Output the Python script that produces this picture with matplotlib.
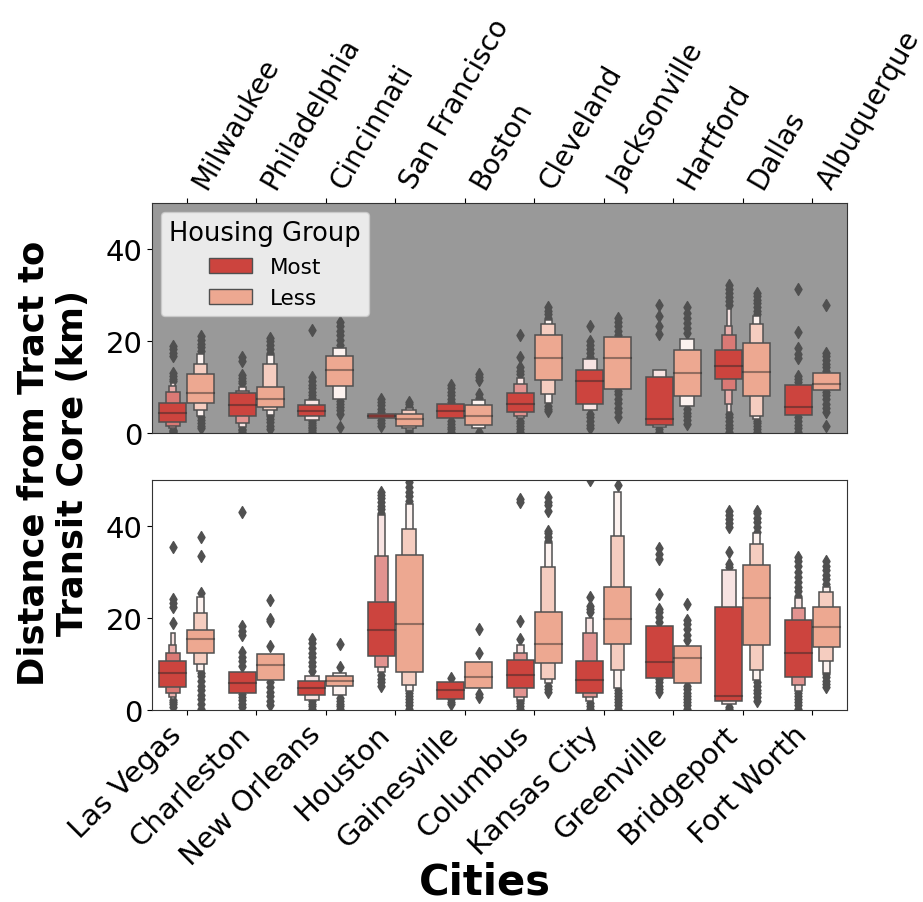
import numpy as np
import matplotlib
matplotlib.use("Agg")
from matplotlib import pyplot as plt
from matplotlib.patches import Rectangle, Patch

# ---- data (km) ----
top_cities = ["Milwaukee", "Philadelphia", "Cincinnati", "San Francisco", "Boston",
              "Cleveland", "Jacksonville", "Hartford", "Dallas", "Albuquerque"]
bot_cities = ["Las Vegas", "Charleston", "New Orleans", "Houston", "Gainesville",
              "Columbus", "Kansas City", "Greenville", "Bridgeport", "Fort Worth"]

# medians
top_most_med = [4.3, 6.1, 4.8, 3.7, 4.8, 6.2, 11.2, 3.1, 14.5, 5.6]
top_less_med = [8.6, 7.5, 13.6, 3.0, 3.6, 16.4, 16.3, 13.0, 13.2, 10.7]
bot_most_med = [8.1, 5.8, 4.7, 17.5, 4.3, 7.6, 6.5, 10.4, 3.0, 12.3]
bot_less_med = [15.4, 9.8, 6.4, 18.8, 7.2, 14.4, 19.8, 11.3, 24.3, 18.0]

# letter-value boxes, inner (IQR) box first
top_most_boxes = [
    [(2.3, 6.6), (1.5, 8.9), (1.1, 10.2), (0.8, 10.8)],
    [(3.6, 8.6), (2.2, 9.2), (1.2, 10.0)],
    [(3.6, 6.1), (2.9, 7.2)],
    [(3.2, 4.1)],
    [(3.2, 6.3)],
    [(4.6, 8.7), (3.8, 10.6), (3.2, 12.0)],
    [(6.4, 13.7), (5.1, 16.1)],
    [(1.7, 12.1), (1.2, 13.6)],
    [(11.7, 18.1), (9.4, 21.3), (6.3, 23.2), (4.5, 27.0)],
    [(4.0, 10.4)],
]
top_less_boxes = [
    [(6.5, 12.8), (5.0, 15.1), (3.7, 17.2)],
    [(5.6, 9.9), (5.0, 14.9), (4.0, 17.0)],
    [(10.3, 16.7), (7.5, 18.4)],
    [(1.5, 4.1), (1.0, 4.9), (0.7, 5.4)],
    [(1.7, 6.1), (1.0, 7.2)],
    [(11.5, 21.2), (8.5, 23.7), (6.5, 24.6)],
    [(9.6, 20.9)],
    [(8.0, 18.0), (5.8, 20.4)],
    [(8.0, 19.6), (3.8, 23.7), (3.0, 25.4)],
    [(9.4, 13.0)],
]
bot_most_boxes = [
    [(4.9, 10.7), (3.7, 12.3), (2.8, 14.2), (2.4, 16.7)],
    [(3.6, 8.3)],
    [(3.3, 6.2), (2.2, 7.5)],
    [(11.8, 23.5), (9.3, 33.4), (8.2, 42.4)],
    [(2.5, 6.0)],
    [(4.7, 10.9), (2.9, 12.5), (2.2, 14.2)],
    [(3.8, 10.6), (2.8, 16.7), (2.0, 19.9)],
    [(6.9, 18.2)],
    [(2.0, 22.5), (1.2, 30.5)],
    [(7.2, 19.5), (5.5, 22.2), (4.1, 24.3)],
]
bot_less_boxes = [
    [(12.3, 17.4), (10.1, 21.0), (8.4, 24.6)],
    [(6.6, 12.2)],
    [(5.3, 7.3), (3.3, 8.0)],
    [(8.3, 33.7), (5.5, 39.3), (4.1, 44.8)],
    [(4.8, 10.5)],
    [(10.2, 21.2), (6.7, 31.0), (5.9, 36.2)],
    [(14.3, 26.8), (8.7, 37.9), (4.7, 47.5)],
    [(5.8, 14.0)],
    [(14.1, 31.6), (8.7, 36.0), (6.6, 38.4)],
    [(13.8, 22.5), (10.6, 25.6), (8.0, 26.8)],
]

# outliers
top_most_fliers = [
    [0.2, 0.4, 0.6, 11.2, 11.8, 12.4, 13.0, 16.8, 17.5, 18.2, 19.0],
    [0.3, 0.6, 0.9, 10.8, 11.4, 12.0, 12.6, 15.6, 16.5],
    [0.2, 0.6, 1.0, 1.4, 1.8, 2.2, 2.6, 7.6, 8.2, 9.0, 9.8, 10.5, 11.3, 12.2, 22.5],
    [1.5, 2.2, 2.9, 4.6, 5.3, 6.1, 6.8, 7.4],
    [0.2, 0.8, 1.4, 2.0, 2.6, 6.8, 7.5, 8.2, 9.0, 9.8, 10.5],
    [0.3, 0.9, 1.5, 2.1, 2.7, 12.8, 13.5, 14.3, 16.5, 21.4],
    [1.0, 1.8, 2.6, 3.4, 4.2, 16.6, 17.4, 18.3, 19.2, 20.0, 23.3],
    [0.3, 0.8, 21.5, 23.3, 25.5, 27.8],
    [0.3, 1.0, 1.8, 2.6, 3.4, 4.2, 27.8, 28.6, 29.5, 30.4, 31.3, 32.2],
    [0.3, 1.0, 1.8, 2.6, 3.4, 11.0, 11.8, 12.4, 16.2, 17.2, 18.4, 22.0, 31.3],
]
top_less_fliers = [
    [1.0, 1.6, 2.2, 2.8, 3.4, 17.8, 18.6, 19.4, 20.2, 21.0],
    [0.9, 1.6, 2.3, 3.0, 3.7, 17.5, 18.3, 19.1, 19.9, 20.6],
    [1.3, 4.2, 4.9, 5.6, 6.3, 7.0, 19.2, 20.2, 21.2, 22.2, 23.2, 24.2],
    [0.2, 0.5, 5.6, 6.2, 6.8],
    [0.2, 7.6, 8.4, 11.5, 12.2, 12.9],
    [4.7, 5.3, 5.9, 25.0, 25.8, 26.6, 27.3],
    [3.5, 4.5, 5.5, 6.5, 7.5, 8.5, 9.2, 21.2, 22.2, 23.2, 24.2, 25.0],
    [2.0, 2.8, 3.6, 4.4, 5.2, 21.7, 22.8, 23.9, 25.0, 26.1, 27.3],
    [0.3, 0.9, 1.5, 2.1, 2.7, 25.8, 26.6, 27.4, 28.2, 29.0, 29.8, 30.4],
    [1.5, 4.6, 5.5, 6.4, 7.3, 8.2, 9.0, 13.5, 14.3, 15.1, 15.9, 16.7, 17.5, 27.8],
]
bot_most_fliers = [
    [0.7, 1.2, 1.7, 2.2, 18.9, 22.4, 23.2, 24.1, 35.4],
    [0.7, 1.4, 2.1, 2.8, 3.4, 9.6, 10.6, 11.6, 12.6, 16.2, 17.2, 18.3, 43.0],
    [0.2, 0.8, 1.4, 2.0, 8.5, 9.5, 10.5, 11.5, 12.5, 13.5, 14.5, 15.4],
    [5.2, 6.0, 6.8, 7.6, 42.8, 43.6, 44.4, 45.2, 46.0, 46.8, 47.4],
    [1.2, 1.8, 2.4, 6.9],
    [0.3, 0.9, 1.5, 2.0, 15.4, 19.4, 45.2, 45.8],
    [0.3, 0.9, 1.5, 21.3, 22.0, 22.6, 24.6, 50.0],
    [3.9, 4.6, 5.3, 6.0, 6.7, 19.2, 20.2, 21.3, 22.0, 25.2, 32.8, 34.0, 35.3],
    [0.2, 0.6, 31.0, 31.7, 34.4, 39.7, 40.7, 41.6, 42.5, 43.3],
    [0.3, 1.0, 1.7, 2.4, 3.1, 3.8, 24.8, 25.8, 26.8, 27.8, 29.0, 30.0, 31.2, 32.3, 33.3],
]
bot_less_fliers = [
    [0.3, 1.3, 2.3, 3.3, 4.3, 5.3, 6.3, 7.3, 8.0, 25.5, 33.5, 37.7],
    [1.0, 2.0, 3.0, 4.0, 5.0, 6.0, 14.0, 19.4, 19.8, 24.0],
    [0.2, 0.8, 1.4, 2.0, 2.6, 9.3, 14.3],
    [0.3, 1.0, 1.7, 2.4, 3.1, 3.8, 45.5, 46.5, 47.5, 48.5, 49.5, 50.5],
    [2.8, 3.5, 12.5, 17.6],
    [4.0, 4.6, 5.2, 36.8, 37.6, 38.4, 39.0, 43.3, 44.5, 45.3, 46.2],
    [0.3, 1.0, 1.7, 2.4, 3.1, 3.8, 4.4, 48.9],
    [0.3, 1.0, 1.7, 2.4, 3.1, 3.8, 4.5, 5.2, 15.2, 16.4, 17.6, 18.6, 19.6, 23.0],
    [2.0, 2.8, 3.6, 4.4, 5.2, 6.0, 38.8, 39.8, 40.8, 41.8, 42.8, 43.3],
    [5.0, 5.7, 6.4, 7.1, 7.8, 27.4, 28.4, 29.4, 30.4, 31.4, 32.4],
]

groups = ["Most", "Less"]
most_color = np.array([204, 68, 62]) / 255.0
less_color = np.array([237, 168, 145]) / 255.0
gray = "#505050"
width = 0.392


def draw_boxen(ax, x, boxes, med, fliers, color):
    ax.scatter(np.full(len(fliers), x), fliers, marker="d", s=36, color=gray, zorder=1)
    n = len(boxes)
    vals = np.linspace(1, 0, n) if n > 1 else [0]
    # outermost first, inner boxes on top
    for j, i in enumerate(range(n - 1, -1, -1)):
        lo, hi = boxes[i]
        w = width * 2.0 ** (-i)
        c = color + vals[j] * 0.85 * (1 - color)
        ax.add_patch(Rectangle((x - w / 2, lo), w, hi - lo, facecolor=c,
                               edgecolor=gray, linewidth=1.1, zorder=1.5))
    ax.plot([x - width / 2, x + width / 2], [med, med], c=".15", alpha=.45,
            lw=1.5, zorder=2)


def draw_panel(ax, cities, m_box, m_med, m_fl, l_box, l_med, l_fl):
    for k in range(len(cities)):
        draw_boxen(ax, k - 0.2, m_box[k], m_med[k], m_fl[k], most_color)
        draw_boxen(ax, k + 0.2, l_box[k], l_med[k], l_fl[k], less_color)
    ax.set_xlim(-0.5, len(cities) - 0.5)
    ax.set_ylim(0, 50)
    ax.set_xticks(range(len(cities)))
    ax.set_yticks([0, 20, 40])
    ax.tick_params(labelsize=21)
    for s in ax.spines.values():
        s.set_color("#333333")


fig = plt.figure(figsize=(9.23, 9.03), dpi=100)
ax1 = fig.add_axes([152 / 923, 1 - 434 / 903, 695 / 923, 230 / 903])
ax2 = fig.add_axes([152 / 923, 1 - 711 / 903, 695 / 923, 230 / 903])

ax1.set_facecolor("#999999")
draw_panel(ax1, top_cities, top_most_boxes, top_most_med, top_most_fliers,
           top_less_boxes, top_less_med, top_less_fliers)
ax1.xaxis.tick_top()
ax1.set_xticklabels(top_cities, rotation=60, ha="left", fontsize=20)

draw_panel(ax2, bot_cities, bot_most_boxes, bot_most_med, bot_most_fliers,
           bot_less_boxes, bot_less_med, bot_less_fliers)
ax2.set_xticklabels(bot_cities, rotation=45, ha="right")

handles = [Patch(facecolor=most_color, edgecolor=gray, label="Most"),
           Patch(facecolor=less_color, edgecolor=gray, label="Less")]
ax1.legend(handles=handles, title="Housing Group", loc="upper left",
           fontsize=15.5, title_fontsize=18.5, borderaxespad=0.4)

fig.text(485 / 923, 1 - 895 / 903, "Cities", fontsize=30, fontweight="bold",
         ha="center", va="baseline")
fig.text(53 / 923, 1 - 463 / 903, "Distance from Tract to\nTransit Core (km)",
         fontsize=25.5, fontweight="bold", rotation=90, ha="center", va="center",
         multialignment="center")

fig.savefig("out.png", dpi=100)
